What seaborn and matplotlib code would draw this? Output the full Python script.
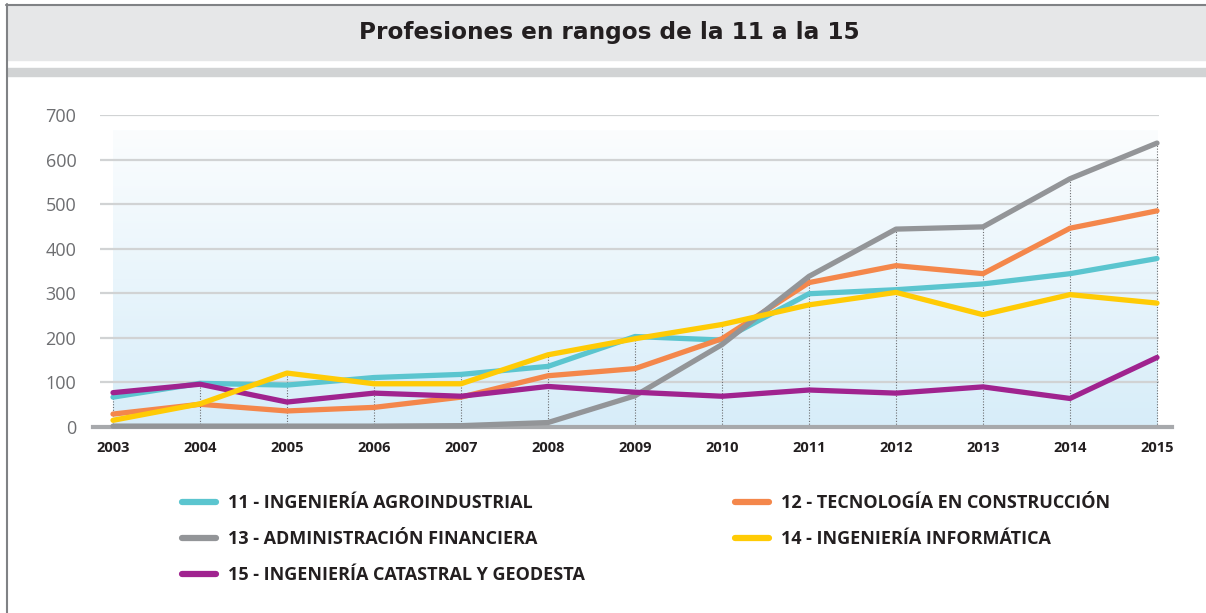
import numpy as np
import pandas as pd
import matplotlib
matplotlib.use("Agg")
import matplotlib.pyplot as plt
import seaborn as sns
from matplotlib.colors import LinearSegmentedColormap
from matplotlib.lines import Line2D
from matplotlib.patches import Rectangle

# data
years = list(range(2003, 2016))
agroindustrial = [67, 98, 94, 111, 118, 136, 203, 195, 299, 308, 321, 344, 378]
construccion = [29, 51, 36, 44, 67, 115, 131, 198, 324, 362, 344, 446, 485]
financiera = [2, 2, 2, 2, 3, 10, 70, 185, 338, 444, 449, 557, 637]
informatica = [15, 52, 121, 97, 97, 162, 198, 230, 274, 302, 252, 297, 278]
catastral = [77, 96, 56, 76, 69, 91, 78, 69, 83, 76, 90, 64, 156]

labels = [
    "11 - INGENIERÍA AGROINDUSTRIAL",
    "12 - TECNOLOGÍA EN CONSTRUCCIÓN",
    "13 - ADMINISTRACIÓN FINANCIERA",
    "14 - INGENIERÍA INFORMÁTICA",
    "15 - INGENIERÍA CATASTRAL Y GEODESTA",
]
colors = ["#5bc5cf", "#f4874b", "#939598", "#ffcb05", "#a0238f"]
series = [agroindustrial, construccion, financiera, informatica, catastral]

df = pd.DataFrame({
    "year": years * len(series),
    "value": sum(series, []),
    "carrera": [lab for lab in labels for _ in years],
})

sns.set_style("white")
plt.rcParams["font.family"] = ["Open Sans", "DejaVu Sans"]

W, H = 1206, 613
fig = plt.figure(figsize=(W / 100, H / 100), dpi=100)


def fx(px):
    return px / W


def fy(py):
    return 1 - py / H


# frame and title banner
fig.patches.append(Rectangle((fx(7), fy(60)), 1, (60 - 6) / H,
                             transform=fig.transFigure, color="#e6e7e8", zorder=0))
fig.patches.append(Rectangle((fx(7), fy(76)), 1, 8 / H,
                             transform=fig.transFigure, color="#d1d3d4", zorder=0))
fig.add_artist(Line2D([fx(6), 1], [fy(4.5), fy(4.5)], transform=fig.transFigure,
                      color="#808285", lw=1.5))
fig.add_artist(Line2D([fx(6.5), fx(6.5)], [fy(4), 0], transform=fig.transFigure,
                      color="#808285", lw=1.5))
fig.text(0.505, fy(33), "Profesiones en rangos de la 11 a la 15", ha="center",
         va="center", fontsize=16.7, fontweight="bold", family="DejaVu Sans",
         color="#231f20")

x0 = 2003 - 20 / 87
x1 = 2015 + 15 / 87
ax = fig.add_axes([fx(93), fy(427), fx(1172) - fx(93), (427 - 115) / H])

# background gradient
cmap = LinearSegmentedColormap.from_list("bg", ["#d7edf9", "#fbfdfe"])
ax.imshow(np.linspace(0, 1, 256).reshape(-1, 1), extent=(2003, 2015, 0, 665),
          aspect="auto", cmap=cmap, origin="lower", zorder=0)

yticks = list(range(0, 701, 100))
ax.hlines(yticks[1:], 2003 - 13 / 87, 2015 + 2 / 87, color="#d1d3d4", lw=1.6, zorder=0.5)

# dotted drop lines up to the highest series
tops = np.max(np.array(series), axis=0)
ax.vlines(years, 0, tops, colors="#6d6e71", linestyles=(0, (1, 1.5)), lw=0.8, zorder=1)

draw_order = [labels[0], labels[1], labels[2], labels[4], labels[3]]
pal = dict(zip(labels, colors))
sns.lineplot(data=df, x="year", y="value", hue="carrera", hue_order=draw_order,
             palette=pal, lw=3.8, legend=False, ax=ax, clip_on=False, zorder=3)

ax.set_xlim(x0, x1)
ax.set_ylim(0, 700)
ax.set_xticks(years)
ax.set_xticklabels([str(y) for y in years], fontsize=10.5, fontweight="bold",
                   color="#231f20")
ax.set_yticks(yticks)
ax.set_yticklabels([str(v) for v in yticks], fontsize=13, color="#6d6e71")
ax.tick_params(axis="x", length=0, pad=10)
ax.tick_params(axis="y", length=0, pad=12)
ax.set_xlabel("")
ax.set_ylabel("")
for s in ["top", "right", "left"]:
    ax.spines[s].set_visible(False)
ax.spines["bottom"].set_color("#a7a9ac")
ax.spines["bottom"].set_linewidth(3)
ax.spines["bottom"].set_zorder(2)
ax.patch.set_alpha(0)

# legend: row-wise 11 | 12, 13 | 14, 15
order = [0, 2, 4, 1, 3]
handles = [Line2D([], [], color=colors[i], lw=4.5, solid_capstyle="round") for i in order]
fig.legend(handles, [labels[i] for i in order], ncol=2, loc="upper left",
           bbox_to_anchor=(fx(173), fy(485)), frameon=False, borderpad=0,
           handlelength=1.9, handletextpad=0.65, columnspacing=8.3, labelspacing=1.0,
           prop={"family": "Open Sans", "weight": "bold", "size": 13},
           labelcolor="#231f20")

fig.savefig("out.png", dpi=100)
